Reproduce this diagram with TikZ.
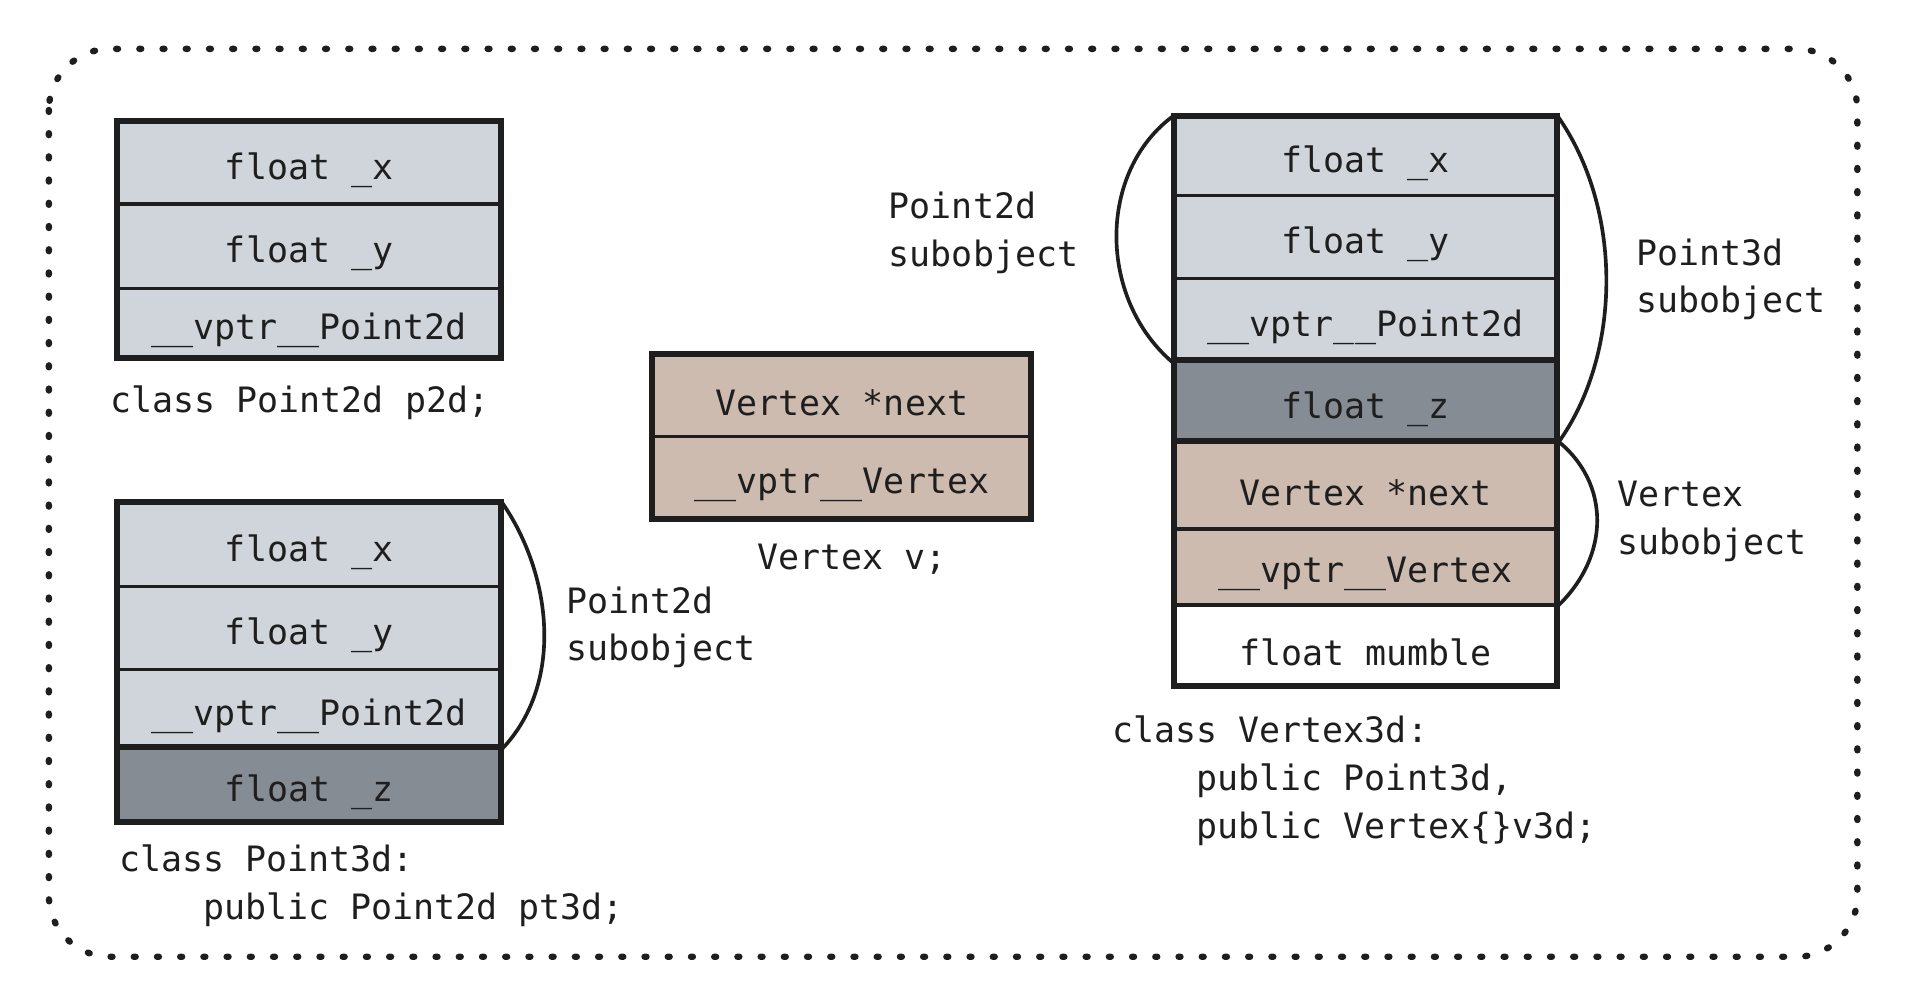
\documentclass[tikz,border=0pt]{standalone}
\usepackage{fontspec}
\setmonofont{DejaVu Sans Mono}
\definecolor{ink}{HTML}{1E1E1E}
\definecolor{lgrey}{HTML}{CFD5DA}
\definecolor{dgrey}{HTML}{868C94}
\definecolor{tan}{HTML}{CDBBB0}
\newcommand{\cl}[1]{\raisebox{-3pt}[\height][\depth]{#1}}
\tikzset{
  cell/.style={draw=ink, line width=1.4pt, inner sep=0pt, text=ink,
    font=\ttfamily\fontsize{14.3pt}{19.5pt}\selectfont},
  outerbox/.style={draw=ink, line width=2.1pt},
  brace/.style={draw=ink, line width=1.5pt},
  lbl/.style={inner sep=0pt, text=ink, align=left, anchor=west,
    font=\ttfamily\fontsize{14.3pt}{19.5pt}\selectfont},
  dotborder/.style={draw=ink, line width=2.6pt, line cap=round,
    dash pattern=on 0.8pt off 8.7pt, rounded corners=25pt}
}
\begin{document}
\begin{tikzpicture}[x=0.5pt,y=-0.5pt]
\useasboundingbox (0,0) rectangle (1568,818);
\draw[dotborder] (40,40) rectangle (1520,783);

% Box A: Point2d p2d
\node[cell,fill=lgrey,minimum width=156pt,minimum height=33.5pt] (a1) at (253,133.5) {\cl{float \_x}};
\node[cell,fill=lgrey,minimum width=156pt,minimum height=34.5pt] (a2) at (253,201.5) {\cl{float \_y}};
\node[cell,fill=lgrey,minimum width=156pt,minimum height=28pt] (a3) at (253,264) {\cl{\_\_vptr\_\_Point2d}};
\draw[outerbox] (a1.north west) rectangle (a3.south east);
\node[lbl] (acap) at (90,330) {class Point2d p2d;};

% Box B: Point3d pt3d
\node[cell,fill=lgrey,minimum width=156pt,minimum height=34pt] (b1) at (253,446) {\cl{float \_x}};
\node[cell,fill=lgrey,minimum width=156pt,minimum height=34pt] (b2) at (253,514) {\cl{float \_y}};
\node[cell,fill=lgrey,minimum width=156pt,minimum height=32pt] (b3) at (253,580) {\cl{\_\_vptr\_\_Point2d}};
\node[cell,fill=dgrey,minimum width=156pt,minimum height=30pt] (b4) at (253,642) {\cl{float \_z}};
\draw[outerbox] (b1.north west) rectangle (b4.south east);
\draw[outerbox] (b4.north west) -- (b4.north east);
\draw[brace] (b1.north east) .. controls (452,470) and (462,560) .. (b3.south east);
\node[lbl] (bsub) at (463,513.5) {Point2d\\subobject};
\node[lbl] (bcap) at (97,725) {class Point3d:\\\hphantom{abcd}public Point2d pt3d;};

% Box C: Vertex v
\node[cell,fill=tan,minimum width=154pt,minimum height=33pt] (c1) at (689,324) {\cl{Vertex *next}};
\node[cell,fill=tan,minimum width=154pt,minimum height=33.5pt] (c2) at (689,390.5) {\cl{\_\_vptr\_\_Vertex}};
\draw[outerbox] (c1.north west) rectangle (c2.south east);
\node[lbl,anchor=center] (ccap) at (697,458) {Vertex v;};

% label Point2d subobject (for box D)
\node[lbl] (dsub1) at (727,190.5) {Point2d\\subobject};

% Box D: Vertex3d v3d
\node[cell,fill=lgrey,minimum width=155.5pt,minimum height=32pt] (d1) at (1117.5,128) {\cl{float \_x}};
\node[cell,fill=lgrey,minimum width=155.5pt,minimum height=34pt] (d2) at (1117.5,194) {\cl{float \_y}};
\node[cell,fill=lgrey,minimum width=155.5pt,minimum height=34pt] (d3) at (1117.5,262) {\cl{\_\_vptr\_\_Point2d}};
\node[cell,fill=dgrey,minimum width=155.5pt,minimum height=33pt] (d4) at (1117.5,329) {\cl{float \_z}};
\node[cell,fill=tan,minimum width=155.5pt,minimum height=35.5pt] (d5) at (1117.5,397.5) {\cl{Vertex *next}};
\node[cell,fill=tan,minimum width=155.5pt,minimum height=31pt] (d6) at (1117.5,464) {\cl{\_\_vptr\_\_Vertex}};
\node[cell,fill=white,minimum width=155.5pt,minimum height=32.5pt] (d7) at (1117.5,527.5) {\cl{float mumble}};
\draw[outerbox] (d1.north west) rectangle (d7.south east);
\draw[outerbox] (d4.north west) -- (d4.north east);
\draw[outerbox] (d5.north west) -- (d5.north east);
\draw[brace] (d1.north west) .. controls (898,140) and (898,245) .. (d3.south west);
\draw[brace] (d1.north east) .. controls (1328,170) and (1328,290) .. (d4.south east);
\draw[brace] (d5.north east) .. controls (1318,395) and (1318,455) .. (d6.south east);
\node[lbl] (dsub2) at (1339,228.5) {Point3d\\subobject};
\node[lbl] (dsub3) at (1323,426.5) {Vertex\\subobject};
\node[lbl] (dcap) at (910,639) {class Vertex3d:\\\hphantom{abcd}public Point3d,\\\hphantom{abcd}public Vertex\{\}v3d;};
\end{tikzpicture}
\end{document}
